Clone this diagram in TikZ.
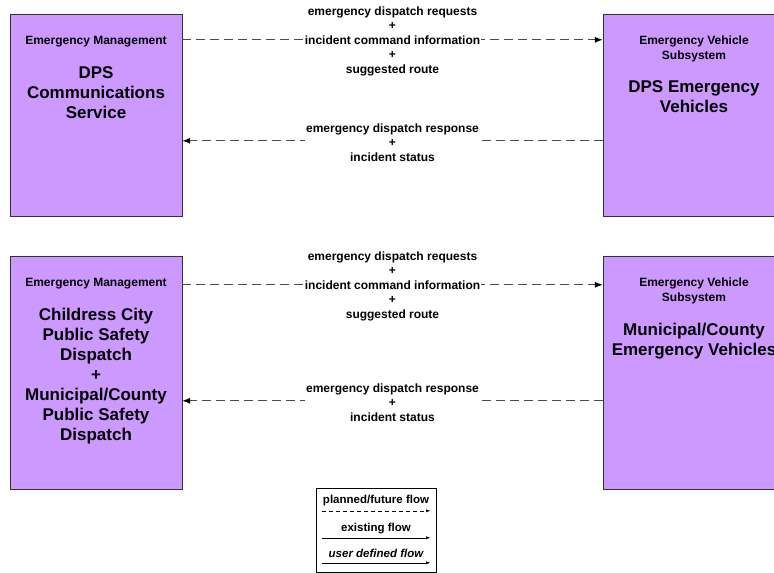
\documentclass[tikz,border=0pt]{standalone}
\usepackage{fontspec}
\setmainfont{Liberation Sans}
\usetikzlibrary{positioning,arrows.meta}
\definecolor{lavender}{RGB}{204,153,255}

\begin{document}
\begin{tikzpicture}[x=1pt,y=-1pt,
        sysbox/.style={rectangle, draw=black!80, fill=lavender, minimum width=172pt, minimum height=202pt, inner sep=0pt},
        classlbl/.style={font=\bfseries\fontsize{12}{14.5}\selectfont, align=center, inner sep=0pt},
        namelbl/.style={font=\bfseries\fontsize{17}{20}\selectfont, align=center, inner sep=0pt},
        flow/.style={draw=black!70, line width=1pt, dash pattern=on 9pt off 5pt, -{Latex[length=8pt,width=6pt,color=black]}},
        flowlbl/.style={font=\bfseries\fontsize{12}{14.5}\selectfont, align=center, fill=white, inner sep=1pt, yshift=-1.5pt},
        legendlbl/.style={font=\bfseries\fontsize{11.5}{14}\selectfont, inner sep=0pt}]
        \clip (0,0) rectangle (774,573);
        % top pair
        \node[sysbox] (dpscomm) at (96,115) {};
        \node[classlbl, below=22pt of dpscomm.north] (dpscommcls) {Emergency Management};
        \node[namelbl, below=19pt of dpscommcls] (dpscommname) {DPS\\Communications\\Service};
        \node[sysbox, minimum width=182pt] (dpsveh) at (694,115) {};
        \node[classlbl, below=22pt of dpsveh.north] (dpsvehcls) {Emergency Vehicle\\Subsystem};
        \node[namelbl, below=19pt of dpsvehcls] (dpsvehname) {DPS Emergency\\Vehicles};
        \draw[flow] ([yshift=-26pt]dpscomm.north east) -- ([yshift=-26pt]dpsveh.north west)
                node[flowlbl, midway] {emergency dispatch requests\\+\\incident command information\\+\\suggested route};
        \draw[flow] ([yshift=-127pt]dpsveh.north west) -- ([yshift=-127pt]dpscomm.north east)
                node[flowlbl, midway] {emergency dispatch response\\+\\incident status};
        % bottom pair
        \node[sysbox, minimum height=233pt] (cityps) at (96,372.5) {};
        \node[classlbl, below=22pt of cityps.north] (citypscls) {Emergency Management};
        \node[namelbl, below=19pt of citypscls] (citypsname) {Childress City\\Public Safety\\Dispatch\\+\\Municipal/County\\Public Safety\\Dispatch};
        \node[sysbox, minimum width=182pt, minimum height=233pt] (muniveh) at (694,372.5) {};
        \node[classlbl, below=22pt of muniveh.north] (munivehcls) {Emergency Vehicle\\Subsystem};
        \node[namelbl, below=19pt of munivehcls] (munivehname) {Municipal/County\\Emergency Vehicles};
        \draw[flow] ([yshift=-29pt]cityps.north east) -- ([yshift=-29pt]muniveh.north west)
                node[flowlbl, midway] {emergency dispatch requests\\+\\incident command information\\+\\suggested route};
        \draw[flow] ([yshift=-145pt]muniveh.north west) -- ([yshift=-145pt]cityps.north east)
                node[flowlbl, midway] {emergency dispatch response\\+\\incident status};
        % legend
        \node[draw=black, minimum width=120pt, minimum height=84pt, inner sep=0pt] (legend) at (376,530) {};
        \node[legendlbl] (plannedlbl) at ([yshift=-13pt]legend.north) {planned/future flow};
        \node[legendlbl] (existlbl) at ([yshift=-41pt]legend.north) {existing flow};
        \node[legendlbl, font=\bfseries\itshape\fontsize{11.5}{14}\selectfont] (userlbl) at ([yshift=-66pt]legend.north) {user defined flow};
        \draw[dash pattern=on 4pt off 3pt, -{Latex[length=4pt,width=3pt]}] ([xshift=6pt,yshift=-23pt]legend.north west) -- ([xshift=-6pt,yshift=-23pt]legend.north east);
        \draw[-{Latex[length=4pt,width=3pt]}] ([xshift=6pt,yshift=-50pt]legend.north west) -- ([xshift=-6pt,yshift=-50pt]legend.north east);
        \draw[-{Latex[length=4pt,width=3pt]}] ([xshift=6pt,yshift=-75pt]legend.north west) -- ([xshift=-6pt,yshift=-75pt]legend.north east);
\end{tikzpicture}
\end{document}
